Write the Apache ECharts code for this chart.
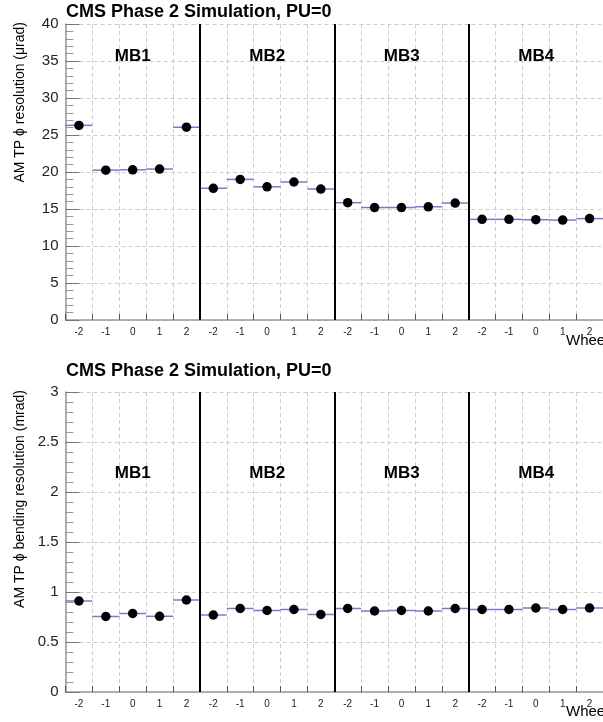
<!DOCTYPE html>
<html><head><meta charset="utf-8">
<script src="https://cdn.jsdelivr.net/npm/echarts@6/dist/echarts.min.js"></script>
<style>html,body{margin:0;padding:0;background:#fff}#c{width:603px;height:722px}</style>
</head><body><div id="c"></div>
<script>
const stations = ['MB1','MB2','MB3','MB4'];
const wheels = ['-2','-1','0','1','2'];
const phiRes = [26.3,20.25,20.3,20.4,26.05, 17.8,19.0,18.0,18.65,17.7, 15.85,15.2,15.2,15.3,15.8, 13.6,13.6,13.55,13.5,13.7];
const bendRes = [0.91,0.755,0.785,0.757,0.92, 0.77,0.835,0.815,0.825,0.775, 0.835,0.81,0.815,0.81,0.835, 0.825,0.825,0.84,0.825,0.84];
const topTicks = {min:0,max:40,interval:5};
const botTicks = {min:0,max:3,interval:0.5};
const titleText = 'CMS Phase 2 Simulation, PU=0';
const topYName = 'AM TP \u03D5 resolution (\u03BCrad)';
const botYName = 'AM TP \u03D5 bending resolution (mrad)';
const xName = 'Wheel';

const cats = [];
stations.forEach(s => wheels.forEach(w => cats.push(s + ' ' + w)));
const nb = cats.length;
const font = 'Liberation Sans, Arial, Helvetica, sans-serif';

function segSeries(vals, gi){
  return {type:'custom', xAxisIndex: gi*2, yAxisIndex: gi, silent:true,
    data: vals.map((v,i)=>[i, v]),
    renderItem: (params, api) => {
      const i = api.value(0), v = api.value(1);
      const p1 = api.coord([i, v]), p2 = api.coord([i+1, v]);
      return {type:'line', shape:{x1:p1[0],y1:p1[1],x2:p2[0],y2:p2[1]}, style:{stroke:'#7a7acc', lineWidth:1.5}};
    }, z:2};
}
function ptSeries(vals, gi){
  return {type:'scatter', xAxisIndex: gi*2, yAxisIndex: gi, data: vals.map((v,i)=>[i+0.5, v]),
    symbolSize:9.5, itemStyle:{color:'#000', opacity:1}, z:5,
    markLine:{silent:true, symbol:'none', label:{show:false}, lineStyle:{color:'#000', width:2, type:'solid'},
      data:[{xAxis:5},{xAxis:10},{xAxis:15}]}};
}
function valX(gi){
  return {type:'value', gridIndex:gi, min:0, max:nb, interval:1, position:'bottom',
    axisLine:{show:true, onZero:false, lineStyle:{color:'#999', width:1.5}},
    axisTick:{show:true, inside:true, length:6, lineStyle:{color:'#555'}},
    axisLabel:{show:false},
    splitLine:{show:true, lineStyle:{color:'#ccc', type:[4,3], width:1}}};
}
function catX(gi){
  return {type:'category', gridIndex:gi, data:cats, position:'bottom', boundaryGap:true,
    axisLine:{show:false}, axisTick:{show:false}, splitLine:{show:false},
    axisLabel:{show:true, fontSize:10, color:'#222', fontFamily:font, margin:7, interval:0,
      formatter: v => v.split(' ')[1]}};
}
function yAx(gi, t){
  return {type:'value', gridIndex:gi, min:t.min, max:t.max, interval:t.interval,
    axisLine:{show:true, lineStyle:{color:'#999', width:1.5}},
    axisTick:{show:true, inside:true, length:14, lineStyle:{color:'#777'}},
    minorTick:{show:true, splitNumber:5, length:8, lineStyle:{color:'#999'}},
    axisLabel:{fontSize:15, color:'#222', fontFamily:font, margin:7},
    splitLine:{show:true, lineStyle:{color:'#ccc', type:[4,3]}}};
}
const graphics = [];
const g0 = {left:65.5, right:-0.5, top:24, height:296};
const g1 = {left:65.5, right:-0.5, top:392, height:300};
stations.forEach((s, k) => {
  const cx = g0.left + (k*5 + 2.5) * (603.5 - 65.5) / nb;
  graphics.push({type:'text', z:100, x:cx, y:56, style:{text:s, font:'bold 17px ' + font, fill:'#000', align:'center', verticalAlign:'middle'}});
  graphics.push({type:'text', z:100, x:cx, y:473, style:{text:s, font:'bold 17px ' + font, fill:'#000', align:'center', verticalAlign:'middle'}});
});
graphics.push({type:'text', z:100, x:66, y:12, style:{text:titleText, font:'bold 18px ' + font, fill:'#000', align:'left', verticalAlign:'middle'}});
graphics.push({type:'text', z:100, x:66, y:371, style:{text:titleText, font:'bold 18px ' + font, fill:'#000', align:'left', verticalAlign:'middle'}});
graphics.push({type:'text', z:100, x:20, y:22, rotation:Math.PI/2, style:{text:topYName, font:'14px ' + font, fill:'#000', align:'right', verticalAlign:'middle'}});
graphics.push({type:'text', z:100, x:20, y:390, rotation:Math.PI/2, style:{text:botYName, font:'14px ' + font, fill:'#000', align:'right', verticalAlign:'middle'}});
graphics.push({type:'text', z:100, x:566, y:341, style:{text:xName, font:'15px ' + font, fill:'#000', align:'left', verticalAlign:'middle'}});
graphics.push({type:'text', z:100, x:566, y:712, style:{text:xName, font:'15px ' + font, fill:'#000', align:'left', verticalAlign:'middle'}});

const chart = echarts.init(document.getElementById('c'), null, {renderer:'canvas'});
chart.setOption({
  animation:false,
  backgroundColor:'#fff',
  grid:[g0, g1],
  xAxis:[valX(0), catX(0), valX(1), catX(1)],
  yAxis:[yAx(0, topTicks), yAx(1, botTicks)],
  series:[segSeries(phiRes,0), ptSeries(phiRes,0), segSeries(bendRes,1), ptSeries(bendRes,1)],
  graphic: graphics
});
</script></body></html>
